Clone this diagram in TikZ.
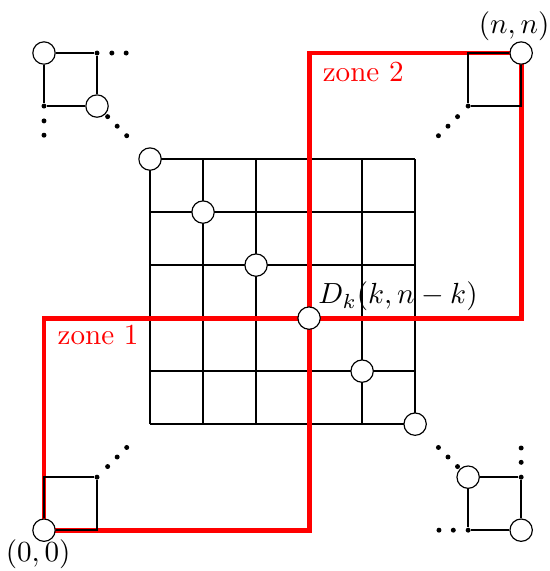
\documentclass[tikz,border=0pt]{standalone}
\usepackage{amsmath,amssymb}
\usepackage{tikz}
\usetikzlibrary{positioning,backgrounds}

\begin{document}
\begin{tikzpicture}[x=0.64cm,y=0.64cm,
  vert/.style={circle,draw,fill=white,line width=0.4pt,inner sep=0pt,minimum size=0.27cm},
  cdot/.style={circle,fill,inner sep=0pt,minimum size=0.06cm},
  lin/.style={line width=0.7pt},
  zone/.style={red,line width=1.7pt},
  zonelbl/.style={red,inner sep=0pt}]
\useasboundingbox (-0.83,-0.77) rectangle (9.53,10.0);
% diagonal of the grid
\foreach \i in {0,...,5}
  \node[vert] (d\i) at (2+\i,7-\i) {};
\node[vert] (p00) at (0,0) {};
\node[vert] (pnn) at (9,9) {};
\node[vert] (tla) at (0,9) {};
\node[vert] (tlb) at (1,8) {};
\node[vert] (bra) at (8,1) {};
\node[vert] (brb) at (9,0) {};
\node[cdot] (tlc) at (1,9) {};
\node[cdot] (tld) at (0,8) {};
\node[cdot] (trc) at (8,8) {};
\node[cdot] (blc) at (1,1) {};
\node[cdot] (brc) at (9,1) {};
\node[cdot] (brd) at (8,0) {};
\coordinate (tra) at (8,9);
\coordinate (trb) at (9,8);
\coordinate (bla) at (0,1);
\coordinate (blb) at (1,0);
% labels
\node[below=-1pt of p00,xshift=-2pt,inner sep=0pt] (lo) {$(0,0)$};
\node[above=0pt of pnn,xshift=-2.4pt,inner sep=0pt] (ln) {$(n,n)$};
\node[anchor=west,inner sep=0pt] (lk) at ([shift={(3pt,7.4pt)}]d3) {$D_k(k,n-k)$};
\node[zonelbl,anchor=base west] (z1) at ([shift={(4.5pt,-9pt)}]0,4) {zone 1};
\node[zonelbl,anchor=base west] (z2) at ([shift={(4.5pt,-9.7pt)}]5,9) {zone 2};
% dots
\foreach \s in {0.2,0.38,0.56} {
  \fill (1+\s,8-\s) circle (0.03cm);
  \fill (8-\s,8-\s) circle (0.03cm);
  \fill (1+\s,1+\s) circle (0.03cm);
  \fill (8-\s,1+\s) circle (0.03cm);
}
\foreach \t in {0.28,0.55} {
  \fill (1+\t,9) circle (0.03cm);
  \fill (0,8-\t) circle (0.03cm);
  \fill (9,1+\t) circle (0.03cm);
  \fill (8-\t,0) circle (0.03cm);
}
\begin{scope}[on background layer]
\foreach \i in {2,...,7} {
  \draw[lin] (\i,2) -- (\i,7);
  \draw[lin] (2,\i) -- (7,\i);
}
\draw[zone] (p00.center) -| (d3.center) -| (p00.center) -- cycle;
\draw[zone] (d3.center) |- (pnn.center) |- (d3.center) -- cycle;
\draw[lin] (tla) -- (tlc) -- (tlb) -- (tld) -- (tla);
\draw[lin] (trc) -- (tra) -- (pnn) -- (trb) -- (trc);
\draw[lin] (p00) -- (bla) -- (blc) -- (blb) -- (p00);
\draw[lin] (bra) -- (brc) -- (brb) -- (brd) -- (bra);
\end{scope}
\end{tikzpicture}
\end{document}
